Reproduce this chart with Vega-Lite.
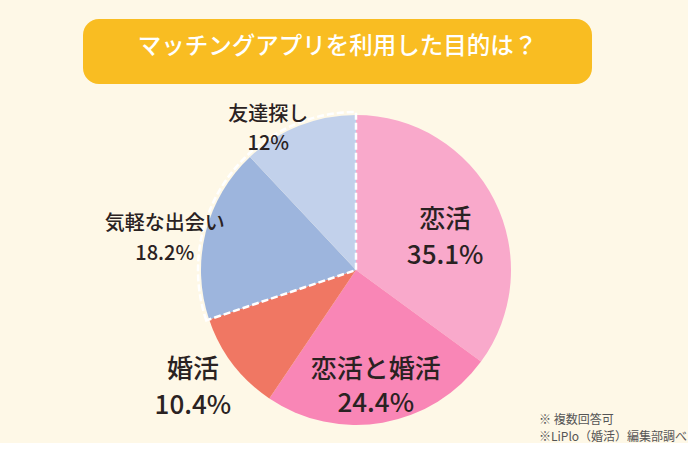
{
  "$schema": "https://vega.github.io/schema/vega-lite/v6.json",
  "background": "#FEF8E7",
  "padding": {"left": 83, "top": 19, "right": 0, "bottom": 0},
  "spacing": 16,
  "config": {"view": {"stroke": null}, "font": "Noto Sans CJK JP"},
  "vconcat": [
    {
      "width": 509,
      "height": 65,
      "view": {"fill": "#F9BD22", "cornerRadius": 16, "stroke": null},
      "data": {"values": [{"t": "マッチングアプリを利用した目的は？"}]},
      "mark": {"type": "text", "color": "#FFFFFF", "fontSize": 23.5, "font": "Noto Sans CJK JP", "fontWeight": 500, "align": "center", "baseline": "middle", "dy": -5},
      "encoding": {"text": {"field": "t", "type": "nominal"}}
    },
    {
      "width": 546,
      "height": 340,
      "title": {
        "text": ["※ 複数回答可", "※LiPlo（婚活）編集部調べ"],
        "orient": "bottom",
        "anchor": "end",
        "align": "left",
        "baseline": "top",
        "dx": -90,
        "offset": -25,
        "fontSize": 12,
        "lineHeight": 17,
        "fontWeight": "normal",
        "color": "#555555",
        "font": "Noto Sans CJK JP"
      },
      "data": {"values": [
        {"label": "恋活", "value": 35.1, "group": "恋愛・結婚", "order": 1},
        {"label": "恋活と婚活", "value": 24.4, "group": "恋愛・結婚", "order": 2},
        {"label": "婚活", "value": 10.4, "group": "恋愛・結婚", "order": 3},
        {"label": "気軽な出会い", "value": 18.2, "group": "交流", "order": 4},
        {"label": "友達探し", "value": 12, "group": "交流", "order": 5}
      ]},
      "transform": [
        {"stack": "value", "groupby": [], "sort": [{"field": "order", "order": "ascending"}], "as": ["v0", "v1"]},
        {"calculate": "(datum.v0 + datum.v1) / 2", "as": "mid"},
        {"calculate": "datum.label + '\\n' + datum.value + '%'", "as": "txt"}
      ],
      "layer": [
        {
          "mark": {"type": "arc", "outerRadius": 155, "stroke": null},
          "encoding": {
            "theta": {"field": "v0", "type": "quantitative", "stack": null, "scale": {"domain": [0, 100.1], "nice": false}},
            "theta2": {"field": "v1"},
            "color": {"field": "label", "type": "nominal", "legend": null,
              "scale": {"domain": ["恋活", "恋活と婚活", "婚活", "気軽な出会い", "友達探し"],
                        "range": ["#F9A9CB", "#F986B6", "#F07763", "#9DB5DD", "#C2D1EB"]}}
          }
        },
        {
          "transform": [
            {"aggregate": [{"op": "min", "field": "v0", "as": "g0"}, {"op": "max", "field": "v1", "as": "g1"}], "groupby": ["group"]},
            {"filter": "datum.group === '交流'"}
          ],
          "mark": {"type": "arc", "outerRadius": 158, "fillOpacity": 0, "fill": "#FFFFFF", "stroke": "#FFFFFF", "strokeWidth": 2.5, "strokeDash": [7, 3]},
          "encoding": {
            "theta": {"field": "g0", "type": "quantitative", "stack": null},
            "theta2": {"field": "g1"}
          }
        },
        {
          "transform": [{"filter": "datum.label === '恋活'"}],
          "mark": {"type": "text", "radius": 91, "dx": 8, "dy": -9, "fontSize": 26, "lineHeight": 36, "lineBreak": "\n", "fontWeight": 500, "color": "#2A2222", "align": "center", "baseline": "middle"},
          "encoding": {"theta": {"field": "mid", "type": "quantitative", "stack": null}, "text": {"field": "txt"}}
        },
        {
          "transform": [{"filter": "datum.label === '恋活と婚活'"}],
          "mark": {"type": "text", "radius": 115, "dy": -13, "fontSize": 26, "lineHeight": 34, "lineBreak": "\n", "fontWeight": 500, "color": "#2A2222", "align": "center", "baseline": "middle"},
          "encoding": {"theta": {"field": "mid", "type": "quantitative", "stack": null}, "text": {"field": "txt"}}
        },
        {
          "transform": [{"filter": "datum.label === '婚活'"}],
          "mark": {"type": "text", "radius": 200, "dx": -4, "dy": -21, "fontSize": 26, "lineHeight": 36, "lineBreak": "\n", "fontWeight": 500, "color": "#2A2222", "align": "center", "baseline": "middle"},
          "encoding": {"theta": {"field": "mid", "type": "quantitative", "stack": null}, "text": {"field": "txt"}}
        },
        {
          "transform": [{"filter": "datum.label === '気軽な出会い'"}],
          "mark": {"type": "text", "radius": 190, "dx": -7, "dy": 0, "fontSize": 20, "lineHeight": 30, "lineBreak": "\n", "fontWeight": 500, "color": "#2A2222", "align": "center", "baseline": "middle"},
          "encoding": {"theta": {"field": "mid", "type": "quantitative", "stack": null}, "text": {"field": "txt"}}
        },
        {
          "transform": [{"filter": "datum.label === '友達探し'"}],
          "mark": {"type": "text", "radius": 165, "dx": -27, "dy": -2, "fontSize": 20, "lineHeight": 29, "lineBreak": "\n", "fontWeight": 500, "color": "#2A2222", "align": "center", "baseline": "middle"},
          "encoding": {"theta": {"field": "mid", "type": "quantitative", "stack": null}, "text": {"field": "txt"}}
        }
      ]
    }
  ]
}
